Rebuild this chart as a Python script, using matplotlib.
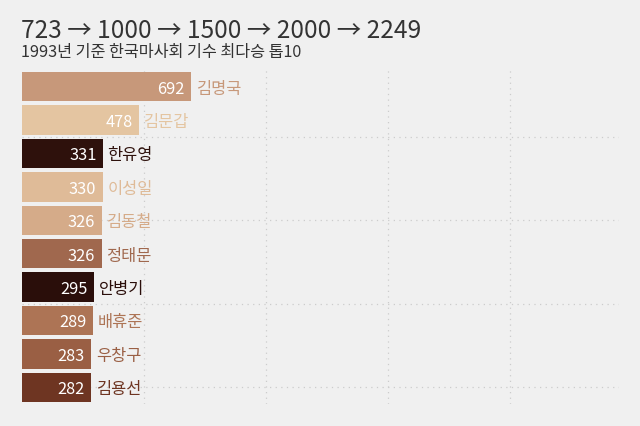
import matplotlib
matplotlib.use("Agg")
import matplotlib.pyplot as plt

plt.rcParams['font.family'] = ['Noto Sans CJK KR', 'DejaVu Sans']

names = ['김명국', '김문갑', '한유영', '이성일', '김동철', '정태문', '안병기', '배휴준', '우창구', '김용선']
wins = [692, 478, 331, 330, 326, 326, 295, 289, 283, 282]
colors = ['#c7987a', '#e4c5a1', '#2e110c', '#dfbb98', '#d5ab89', '#a0684e',
          '#2a0e0a', '#ad7455', '#9a5f44', '#6e3522']
title = '723 → 1000 → 1500 → 2000 → 2249'
subtitle = '1993년 기준 한국마사회 기수 최다승 톱10'

bg = '#f0f0f0'
fig = plt.figure(figsize=(6.4, 4.27), dpi=100, facecolor=bg)
ax = fig.add_axes([22 / 640, 1 - 405 / 427, 597 / 640, 334 / 427])
ax.set_facecolor(bg)

pos = list(range(len(names)))
ax.barh(pos, wins, height=0.88, color=colors, zorder=2)

for i, (n, v, c) in enumerate(zip(names, wins, colors)):
    ax.annotate(str(v), (v, i), xytext=(-4.5, -1), textcoords='offset points',
                ha='right', va='center', color='white', fontsize=11.8, zorder=3)
    ax.annotate(n, (v, i), xytext=(3.5, -1), textcoords='offset points',
                ha='left', va='center', color=c, fontsize=11.8, zorder=3)

ax.set_xlim(0, 2447)
ax.set_ylim(9.5, -0.5)

for x in [500, 1000, 1500, 2000]:
    ax.axvline(x, color='#cccccc', lw=0.9, ls=(0, (1, 3.5)), zorder=1)
for y in [1.5, 4.0, 6.5, 9.0]:
    ax.axhline(y, color='#cccccc', lw=0.9, ls=(0, (1, 3.5)), zorder=1)

ax.set_xticks([])
ax.set_yticks([])
for s in ax.spines.values():
    s.set_visible(False)

fig.text(21 / 640, 1 - 37.5 / 427, title, fontsize=17.6, color='#333333', va='baseline')
fig.text(21 / 640, 1 - 56.5 / 427, subtitle, fontsize=11.7, color='#333333', va='baseline')

fig.savefig('out.png', dpi=100, facecolor=bg)
